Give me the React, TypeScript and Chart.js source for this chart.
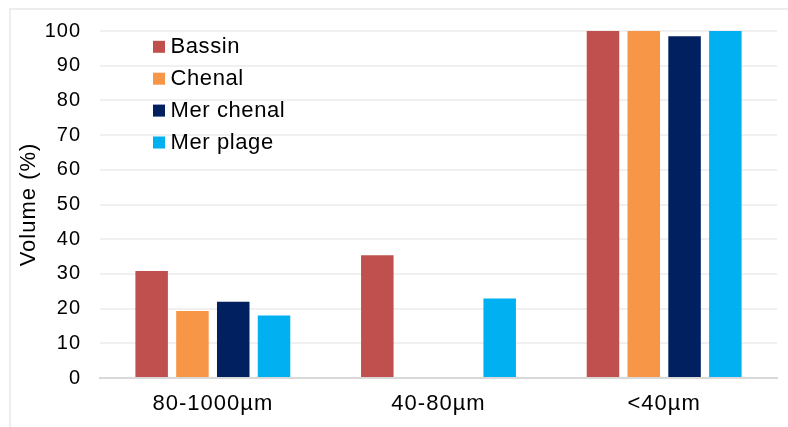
import React, { useEffect, useRef } from "react";
import { Chart, registerables } from "chart.js";

Chart.register(...registerables);

const categories = ["80-1000µm", "40-80µm", "<40µm"];
const seriesNames = ["Bassin", "Chenal", "Mer chenal", "Mer plage"];
const bassin = [30.8, 35.4, 100];
const chenal = [19.3, null, 100];
const merChenal = [22.0, null, 98.5];
const merPlage = [18.0, 22.9, 100];
const seriesColors = ["#C0504D", "#F79646", "#002060", "#00B0F0"];
const yMin = 0;
const yMax = 100;
const yStep = 10;
const yTitle = "Volume (%)";

const FONT = "'Liberation Sans', Arial, sans-serif";
const SPACING = "1px";
const LEGEND_SPACING = "0.6px";

const spacingPlugin = {
  id: "spacing",
  beforeLayout(chart: any) {
    chart.ctx.letterSpacing = SPACING;
  },
  beforeDraw(chart: any) {
    chart.ctx.letterSpacing = SPACING;
  },
};

const legendPlugin = {
  id: "innerLegend",
  afterDraw(chart: any) {
    const ctx = chart.ctx;
    ctx.save();
    ctx.letterSpacing = LEGEND_SPACING;
    ctx.font = `22px ${FONT}`;
    ctx.textAlign = "left";
    ctx.textBaseline = "alphabetic";
    const x0 = 153;
    const baseline0 = 53.3;
    const rowH = 31.9;
    chart.data.datasets.forEach((ds: any, i: number) => {
      const by = baseline0 + i * rowH;
      ctx.fillStyle = ds.backgroundColor;
      ctx.fillRect(x0, by - 12.5, 12, 12);
      ctx.fillStyle = "#000000";
      ctx.fillText(ds.label, x0 + 17.5, by);
    });
    ctx.restore();
  },
};

export default function App() {
  const ref = useRef<HTMLCanvasElement | null>(null);

  useEffect(() => {
    if (!ref.current) return;
    const seriesData = [bassin, chenal, merChenal, merPlage];
    const chart = new Chart(ref.current, {
      type: "bar",
      data: {
        labels: categories,
        datasets: seriesNames.map((name, i) => ({
          label: name,
          data: seriesData[i] as any,
          backgroundColor: seriesColors[i],
          borderWidth: 0,
          categoryPercentage: 0.723,
          barPercentage: 0.797,
        })),
      },
      options: {
        animation: false,
        responsive: true,
        maintainAspectRatio: false,
        layout: { padding: { top: 31, right: 11, left: 0, bottom: 0 } },
        plugins: {
          legend: { display: false },
          tooltip: { enabled: false },
        },
        scales: {
          x: {
            grid: { display: false, drawTicks: false },
            border: { display: true, color: "#D9D9D9", width: 2 },
            ticks: {
              color: "#000000",
              font: { family: FONT, size: 22 },
              padding: 13,
              maxRotation: 0,
            },
            afterFit(scale: any) {
              scale.height = 49;
            },
          },
          y: {
            min: yMin,
            max: yMax,
            grid: {
              drawTicks: false,
              lineWidth: 2,
              color: (c: any) => (c.tick && c.tick.value === 0 ? "#D9D9D9" : "#F0F0F0"),
            },
            border: { display: false },
            ticks: {
              stepSize: yStep,
              color: "#000000",
              font: { family: FONT, size: 20 },
              padding: 19,
            },
            title: {
              display: true,
              text: yTitle,
              color: "#000000",
              font: { family: FONT, size: 22 },
              padding: { top: 16, bottom: 0 },
            },
            afterFit(scale: any) {
              scale.width = 100;
            },
          },
        },
      },
      plugins: [spacingPlugin, legendPlugin],
    });
    return () => chart.destroy();
  }, []);

  return (
    <div
      style={{
        position: "fixed",
        left: 0,
        top: 0,
        width: 788,
        height: 427,
        background: "#FFFFFF",
        overflow: "hidden",
      }}
    >
      <div
        style={{
          position: "absolute",
          left: 9,
          top: 8,
          right: -10,
          bottom: -10,
          borderTop: "2px solid #EDEDED",
          borderLeft: "2px solid #EDEDED",
        }}
      />
      <div style={{ position: "absolute", left: 0, top: 0, width: 788, height: 427 }}>
        <canvas ref={ref} />
      </div>
    </div>
  );
}
